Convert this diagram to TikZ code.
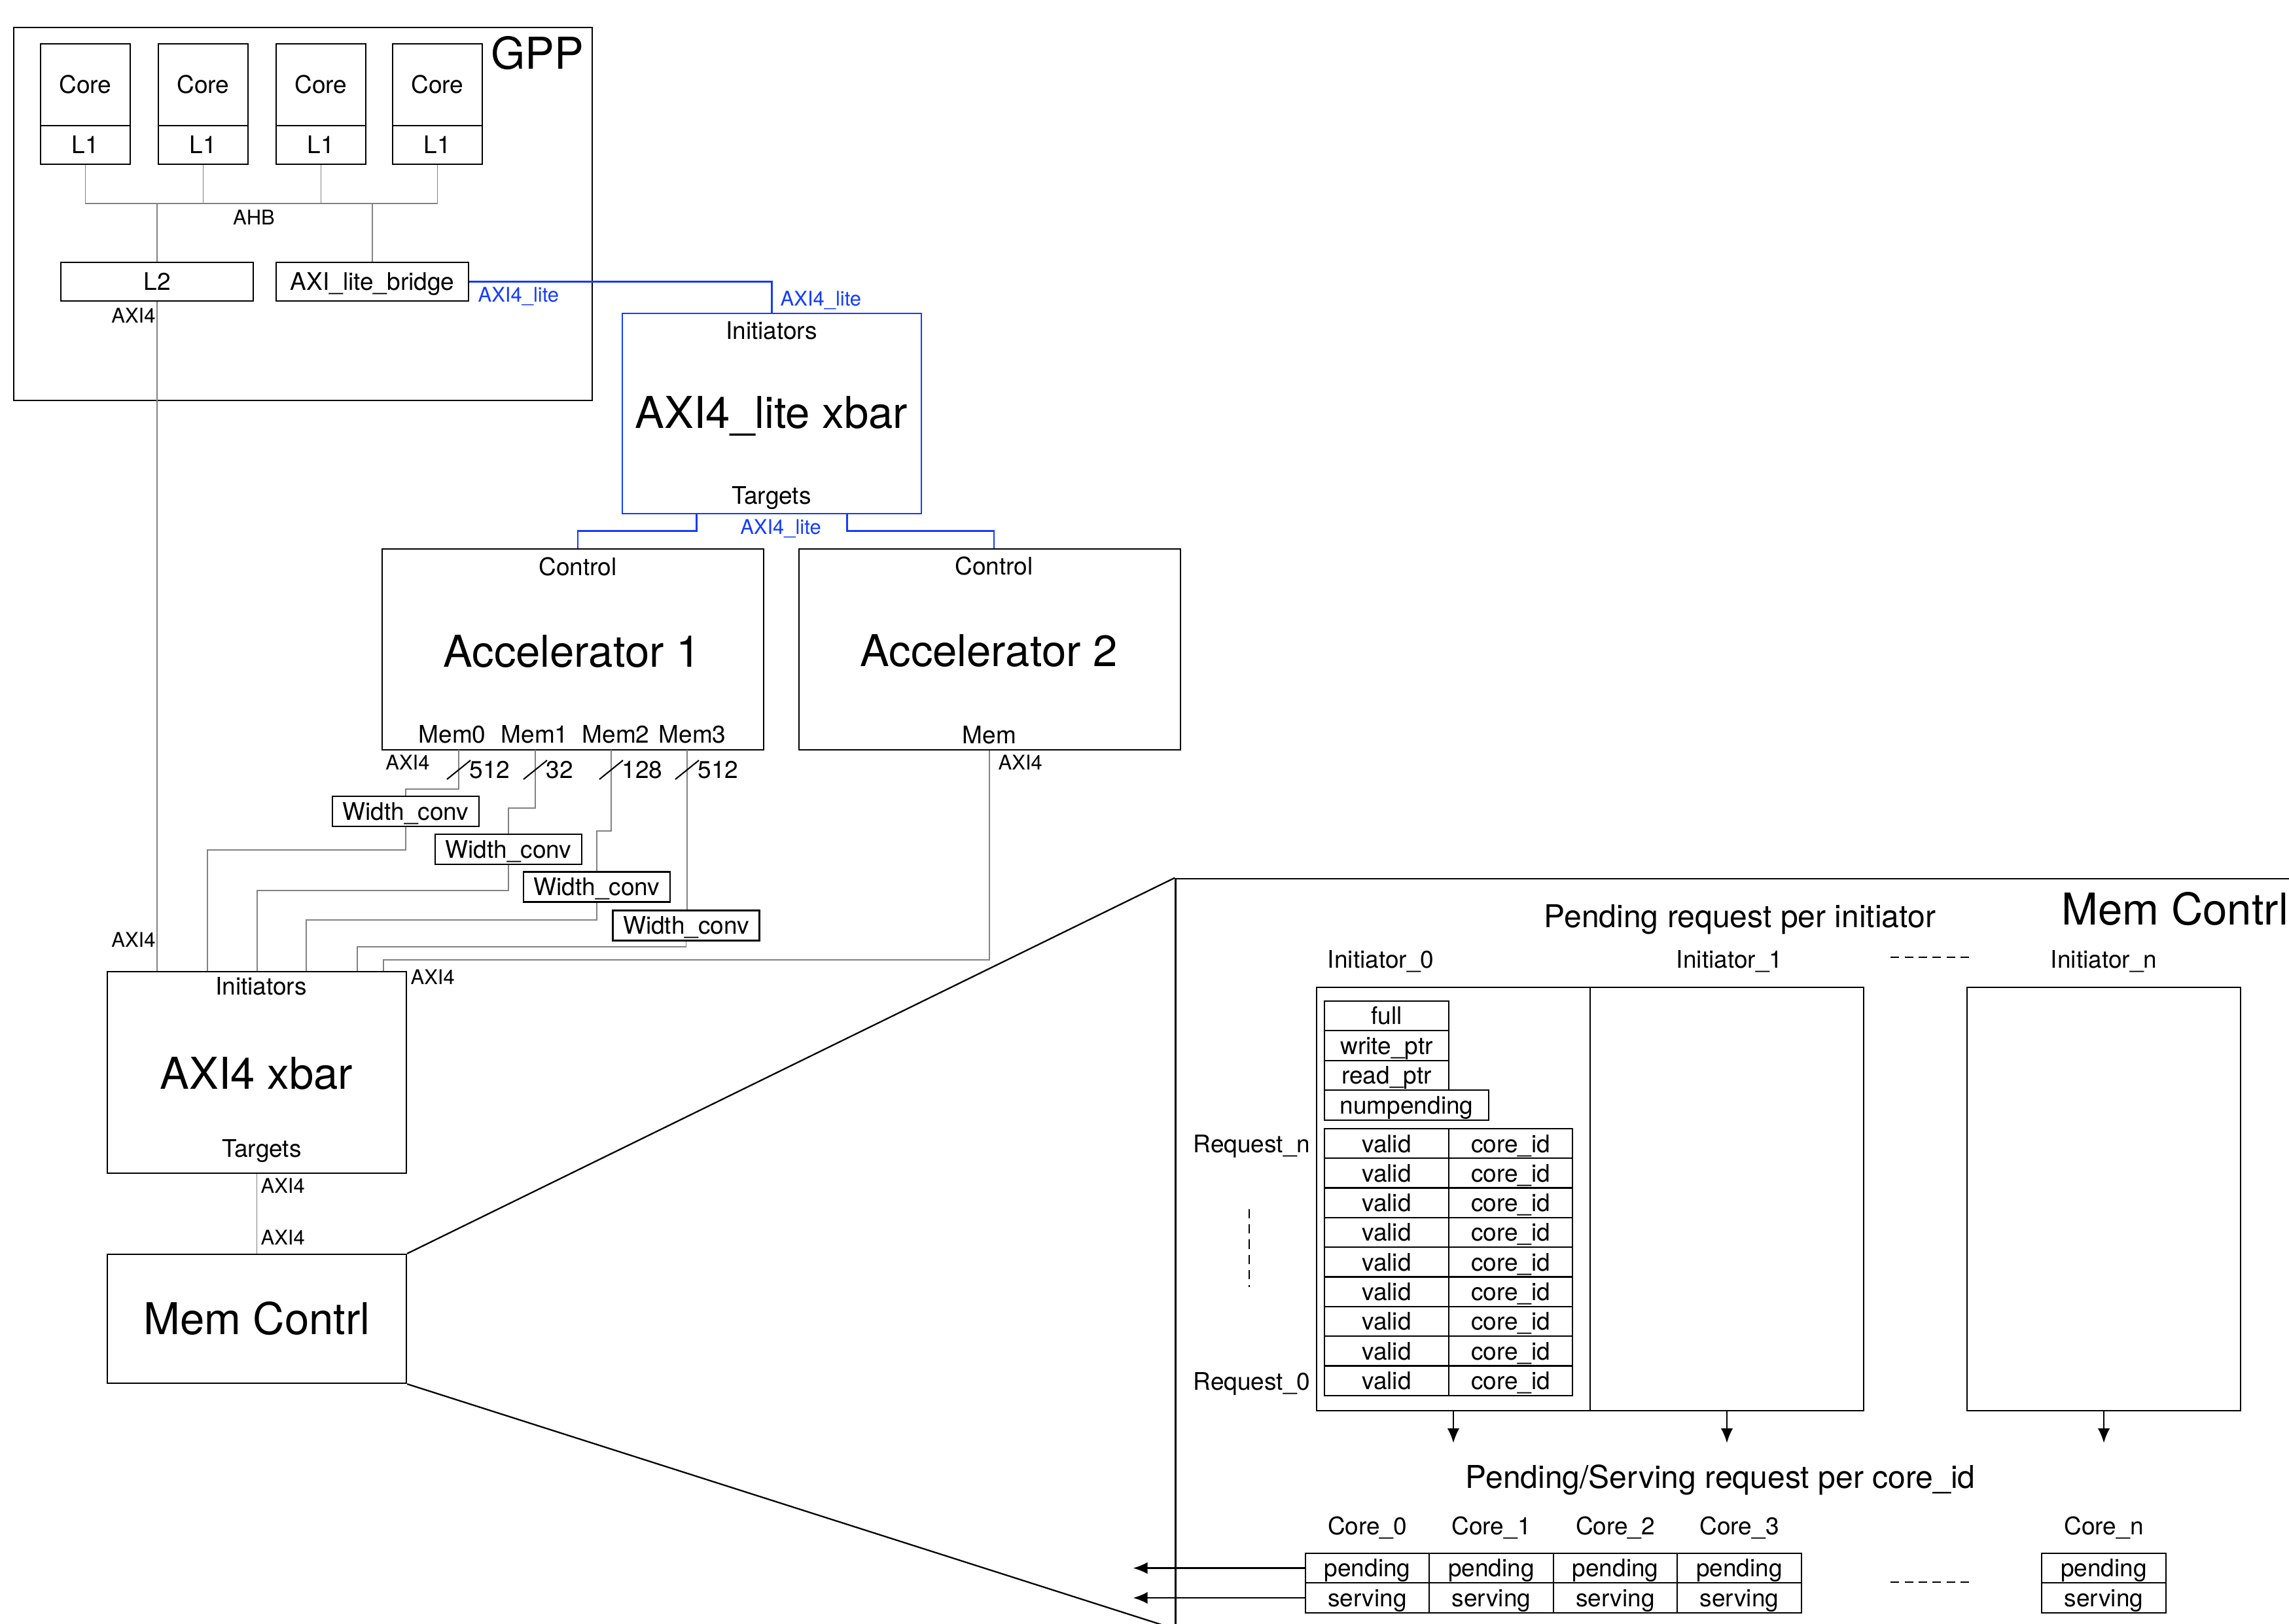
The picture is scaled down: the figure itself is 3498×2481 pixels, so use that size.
\documentclass[tikz,border=0pt]{standalone}
\usepackage{fontspec}
\setmainfont{TeX Gyre Heros}
\usetikzlibrary{calc,arrows.meta}
\definecolor{lgray}{RGB}{130,130,130}
\definecolor{xblue}{RGB}{20,60,255}
\newcommand{\mybig}{\fontsize{19.06}{22}\selectfont}
\newcommand{\mymid}{\fontsize{13.66}{16}\selectfont}
\newcommand{\mynor}{\fontsize{10.53}{12}\selectfont}
\newcommand{\mysm}{\fontsize{8.8}{10}\selectfont}
\tikzset{
  box/.style={draw=black, line width=0.65pt, inner sep=0pt, rectangle},
  t/.style={inner sep=0pt, font=\mynor, text height=7.6pt, text depth=0pt},
  tbg/.style={inner sep=0pt, font=\mybig, text height=13.7pt, text depth=0pt},
  tm/.style={inner sep=0pt, font=\mymid, text height=9.8pt, text depth=0pt},
  ts/.style={inner sep=0pt, font=\mysm, text height=6.3pt, text depth=0pt},
  gl/.style={draw=lgray, line width=0.55pt},
  bl/.style={draw=xblue, line width=0.7pt},
  slash/.style={draw=black, line width=0.6pt},
  arr/.style={draw=black, line width=0.65pt, -{Latex[length=6.3pt,width=5.2pt]}},
  dsh/.style={draw=black, line width=0.65pt, dash pattern=on 3.7pt off 2.4pt},
  dshv/.style={draw=black, line width=0.65pt, dash pattern=on 4pt off 2.6pt},
  edge/.style={draw=black, line width=0.65pt}
}
\begin{document}
\begin{tikzpicture}[x=0.01cm, y=-0.01cm]
\useasboundingbox (0,0) rectangle (3498,2481);
\fill[white] (0,0) rectangle (3498,2481);
\clip (0,0) rectangle (3498,2481);

% ---------------- GPP ----------------
\node[box, minimum width=88.4mm, minimum height=57mm] (gpp) at (463,327) {};
\node[tbg] (gpptxt) at (821,81) {GPP};
\foreach \n/\x in {a/130.5, b/310.5, c/490.5, d/668.5} {
  \node[box, t, minimum width=13.7mm, minimum height=12.5mm] (core\n) at (\x,129.5) {Core};
  \node[box, t, minimum width=13.7mm, minimum height=5.9mm] (l1\n) at (\x,221.5) {L1};
}
\coordinate (bus) at (400,311);
\draw[gl] (l1a.south) -- (l1a.south |- bus) -- (l1d.south |- bus) -- (l1d.south);
\draw[gl] (l1b.south) -- (l1b.south |- bus);
\draw[gl] (l1c.south) -- (l1c.south |- bus);
\node[ts] (ahb) at (388,332) {AHB};
\node[box, t, minimum width=29.4mm, minimum height=5.9mm] (l2) at (240,430.5) {L2};
\node[box, t, minimum width=29.4mm, minimum height=5.9mm] (bridge) at (569,430.5) {AXI\_lite\_bridge};
\draw[gl] (l2.north |- bus) -- (l2.north);
\draw[gl] (bridge.north |- bus) -- (bridge.north);
\node[ts] (axl2) at (204,482) {AXI4};

% ---------------- AXI4_lite xbar ----------------
\node[box, draw=xblue, line width=0.7pt, minimum width=45.7mm, minimum height=30.6mm] (lxbar) at (1179.5,632) {};
\node[t] (lxi) at (1179,505) {Initiators};
\node[tbg] (lxt) at (1179,630) {AXI4\_lite xbar};
\node[t] (lxtg) at (1179,757) {Targets};
\draw[bl] (bridge.east) -| (lxbar.north);
\node[ts, text=xblue, anchor=west] (bl1) at (730,450) {AXI4\_lite};
\node[ts, text=xblue, anchor=west] (bl2) at (1192,456) {AXI4\_lite};

% ---------------- Accelerators ----------------
\node[box, minimum width=58.3mm, minimum height=30.7mm] (acc1) at (875.5,992.5) {};
\node[box, minimum width=58.3mm, minimum height=30.7mm] (acc2) at (1512.5,992.5) {};
\node[t] (ctl1) at (883,866) {Control};
\node[tbg] (acc1t) at (874,995) {Accelerator 1};
\node[t] (m0) at (691,1122) {Mem0};
\node[t] (m1) at (817,1122) {Mem1};
\node[t] (m2) at (941,1122) {Mem2};
\node[t] (m3) at (1058,1122) {Mem3};
\node[t] (ctl2) at (1519,865) {Control};
\node[tbg] (acc2t) at (1511,994) {Accelerator 2};
\node[t] (mem2) at (1512,1123) {Mem};

\coordinate (tgA) at ($(lxbar.south west)!0.25!(lxbar.south east)$);
\coordinate (tgB) at ($(lxbar.south west)!0.75!(lxbar.south east)$);
\draw[bl] (tgA) -- ++(0,25) -| (acc1.north -| ctl1);
\draw[bl] (tgB) -- ++(0,25) -| (acc2.north -| ctl2);
\node[ts, text=xblue] (bl3) at (1193,805) {AXI4\_lite};

% ports of accelerator 1
\coordinate (p0) at (701,1146);
\coordinate (p1) at (818,1146);
\coordinate (p2) at (934,1146);
\coordinate (p3) at (1050,1146);

\node[box, t, minimum width=22.4mm, minimum height=4.6mm] (wc0) at (620,1240) {Width\_conv};
\node[box, t, minimum width=22.4mm, minimum height=4.6mm] (wc1) at (777,1298) {Width\_conv};
\node[box, t, minimum width=22.4mm, minimum height=4.6mm] (wc2) at (912,1355.5) {Width\_conv};
\node[box, t, minimum width=22.4mm, minimum height=4.6mm] (wc3) at (1048.5,1414.5) {Width\_conv};

\draw[gl] (p0) -- ++(0,60) -| (wc0.north);
\draw[gl] (p1) -- ++(0,89) -| (wc1.north);
\draw[gl] (p2) -- ++(0,124) -| (wc2.north);
\draw[gl] (p3) -- (p3 |- wc3.north);

\foreach \p in {p0,p1,p2,p3} {
  \draw[slash] ($(\p)+(-18,45)$) -- ($(\p)+(18,16)$);
}
\node[t, anchor=west] (w0) at ($(p0)+(16,30)$) {512};
\node[t, anchor=west] (w1) at ($(p1)+(16,30)$) {32};
\node[t, anchor=west] (w2) at ($(p2)+(16,30)$) {128};
\node[t, anchor=west] (w3) at ($(p3)+(16,30)$) {512};
\node[ts] (ax1) at (623,1165) {AXI4};
\node[ts, anchor=west] (ax6) at (1525,1165) {AXI4};

% ---------------- AXI4 xbar ----------------
\node[box, minimum width=45.7mm, minimum height=30.8mm] (xbar) at (392.5,1639) {};
\node[t] (xi) at (399,1507) {Initiators};
\node[tbg] (xt) at (392,1640) {AXI4 xbar};
\node[t] (xtg) at (400,1755) {Targets};
\foreach \i/\f in {2/0.3347,3/0.501,4/0.665,5/0.834,6/0.921} {
  \coordinate (in\i) at ($(xbar.north west)!\f!(xbar.north east)$);
}
\draw[gl] (l2.south) -- (l2.south |- xbar.north);
\draw[gl] (wc0.south) -- ++(0,35) -| (in2);
\draw[gl] (wc1.south) -- ++(0,39) -| (in3);
\draw[gl] (wc2.south) -- ++(0,26) -| (in4);
\draw[gl] (wc3.south) -- ++(0,8) -| (in5);
\draw[gl] (acc2.south -| mem2) -- ++(0,320) -| (in6);
\node[ts] (ax2) at (204,1436) {AXI4};
\node[ts, anchor=west] (ax3) at (627,1493) {AXI4};

% ---------------- Mem Contrl ----------------
\node[box, tbg, minimum width=45.7mm, minimum height=19.7mm] (memc) at (392.5,2015.5) {Mem Contrl};
\draw[gl] (xbar.south) -- (memc.north);
\node[ts, anchor=west] (ax4) at (398,1812) {AXI4};
\node[ts, anchor=west] (ax5) at (398,1891) {AXI4};

% ---------------- Detail box ----------------
\node[box, minimum width=190.3mm, minimum height=114.5mm] (big) at (2748.5,1915.5) {};
\draw[edge] (memc.north east) -- (big.north west);
\draw[edge] (memc.south east) -- (big.south west);

\node[tm] (prt) at (2659,1400) {Pending request per initiator};
\node[tbg, anchor=west] (mct) at (3150,1389) {Mem Contrl};
\node[t] (ini0) at (2110,1466) {Initiator\_0};
\node[t] (ini1) at (2643,1466) {Initiator\_1};
\node[t] (inin) at (3215,1466) {Initiator\_n};
\coordinate (dA) at (2889,1463);
\coordinate (dB) at (3009,1463);
\draw[dsh] (dA) -- (dB);

\node[box, minimum width=41.8mm, minimum height=64.7mm] (ib0) at (2221,1832.5) {};
\node[box, minimum width=41.8mm, minimum height=64.7mm] (ib1) at (2639,1832.5) {};
\node[box, minimum width=41.8mm, minimum height=64.7mm] (ibn) at (3215,1832.5) {};

\node[box, t, minimum width=19mm, minimum height=4.55mm] (full) at (2119,1552.5) {full};
\node[box, t, minimum width=19mm, minimum height=4.55mm] (wptr) at (2119,1598) {write\_ptr};
\node[box, t, minimum width=19mm, minimum height=4.55mm] (rptr) at (2119,1643.5) {read\_ptr};
\node[box, t, minimum width=25.1mm, minimum height=4.6mm] (nump) at (2149.5,1689) {numpending};

\foreach \r in {0,...,8} {
  \node[box, t, minimum width=19mm, minimum height=4.53mm] (rv\r) at (2119,{1747.65+45.3*\r}) {valid};
  \node[box, t, minimum width=18.9mm, minimum height=4.53mm] (rc\r) at (2308.5,{1747.65+45.3*\r}) {core\_id};
}
\node[t, anchor=east] (reqn) at (2003,1748) {Request\_n};
\node[t, anchor=east] (req0) at (2003,2111) {Request\_0};
\coordinate (vdA) at (1909,1848);
\coordinate (vdB) at (1909,1967);
\draw[dshv] (vdA) -- (vdB);

\draw[arr] (ib0.south) -- ++(0,48);
\draw[arr] (ib1.south) -- ++(0,48);
\draw[arr] (ibn.south) -- ++(0,48);

\node[tm] (psr) at (2629,2257) {Pending/Serving request per core\_id};
\foreach \k/\x in {0/2089.5,1/2279,2/2468.5,3/2658} {
  \node[t] (cl\k) at (\x,2332) {Core\_\k};
  \node[box, t, minimum width=18.95mm, minimum height=4.55mm] (pd\k) at (\x,2396.5) {pending};
  \node[box, t, minimum width=18.95mm, minimum height=4.55mm] (sv\k) at (\x,2442) {serving};
}
\node[t] (cln) at (3215,2332) {Core\_n};
\node[box, t, minimum width=19mm, minimum height=4.55mm] (pdn) at (3215,2396.5) {pending};
\node[box, t, minimum width=19mm, minimum height=4.55mm] (svn) at (3215,2442) {serving};
\coordinate (dC) at (2889,2418);
\coordinate (dD) at (3009,2418);
\draw[dsh] (dC) -- (dD);

\draw[arr] (pd0.west) -- ++(-262,0);
\draw[arr] (sv0.west) -- ++(-262,0);
\end{tikzpicture}
\end{document}
